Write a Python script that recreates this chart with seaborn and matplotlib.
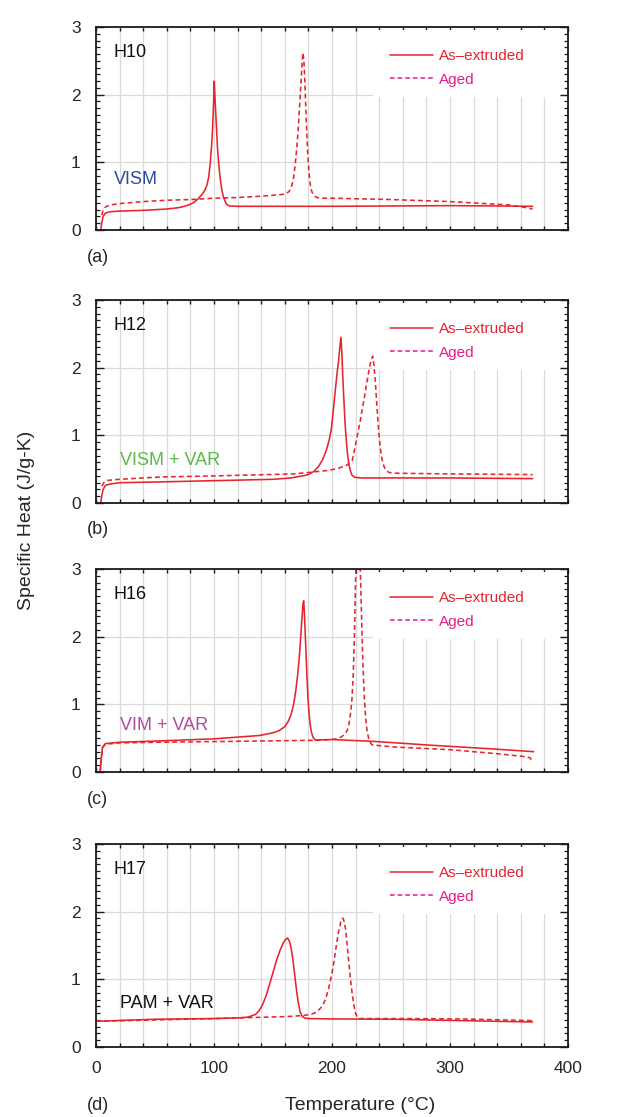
import numpy as np
import pandas as pd
import matplotlib
matplotlib.use("Agg")
import matplotlib.pyplot as plt
import seaborn as sns
from matplotlib.ticker import MultipleLocator, FixedLocator
from matplotlib.lines import Line2D
from matplotlib.patches import Rectangle

# ---------------- data ----------------
panels = ["H10", "H12", "H16", "H17"]
processes = ["VISM", "VISM + VAR", "VIM + VAR", "PAM + VAR"]
panel_tags = ["(a)", "(b)", "(c)", "(d)"]
conditions = ["As–extruded", "Aged"]

# H10
T_h10_ext = [4, 5, 6, 8, 12, 20, 40, 60, 70, 75, 80, 83, 86, 88, 90, 92, 94, 95.5, 96.9, 98, 98.8,
             99.6, 100.2, 101, 102, 103, 104, 105, 106, 107, 108, 109.5, 111, 113, 120, 150, 200,
             250, 300, 340, 370]
Cp_h10_ext = [0, 0.12, 0.2, 0.25, 0.27, 0.28, 0.29, 0.31, 0.33, 0.35, 0.38, 0.41, 0.45, 0.49, 0.53,
              0.58, 0.66, 0.78, 1.0, 1.25, 1.5, 1.85, 2.2, 1.9, 1.55, 1.2, 0.98, 0.8, 0.66, 0.56,
              0.49, 0.42, 0.375, 0.355, 0.35, 0.35, 0.35, 0.355, 0.36, 0.355, 0.35]
T_h10_aged = [5, 6, 8, 12, 20, 40, 60, 80, 100, 120, 140, 155, 160, 163, 164.5, 166, 167.5, 169,
              170.2, 171.4, 172.6, 173.8, 174.8, 175.4, 176.2, 177, 177.8, 178.6, 179.5, 180.5,
              181.5, 182.8, 184.5, 187, 192, 200, 250, 300, 330, 350, 365, 370]
Cp_h10_aged = [0.22, 0.3, 0.34, 0.37, 0.39, 0.42, 0.44, 0.45, 0.47, 0.48, 0.5, 0.52, 0.53, 0.56,
               0.59, 0.66, 0.78, 1.0, 1.22, 1.5, 1.85, 2.2, 2.5, 2.62, 2.5, 2.2, 1.8, 1.45, 1.1,
               0.85, 0.68, 0.57, 0.51, 0.48, 0.47, 0.47, 0.45, 0.42, 0.39, 0.37, 0.33, 0.31]

# H12
T_h12_ext = [4, 5, 6, 8, 12, 20, 50, 100, 150, 165, 175, 180, 185, 189, 192, 195, 197.5, 199.5,
             201.4, 203, 204.5, 205.6, 206.6, 207.6, 208.4, 209.2, 210, 211, 212, 213, 214.2,
             215.5, 217, 219, 225, 300, 370]
Cp_h12_ext = [0, 0.12, 0.2, 0.26, 0.28, 0.3, 0.31, 0.33, 0.35, 0.37, 0.40, 0.42, 0.47, 0.55, 0.64,
              0.77, 0.92, 1.1, 1.42, 1.7, 1.95, 2.1, 2.3, 2.45, 2.2, 1.85, 1.55, 1.2, 0.95, 0.75,
              0.58, 0.48, 0.41, 0.38, 0.37, 0.37, 0.36]
T_h12_aged = [5, 7, 10, 20, 55, 100, 168, 196, 205, 212.7, 217.2, 219, 221, 224, 227, 229.7,
              231.5, 233, 234.5, 235.5, 236.7, 238, 239.5, 241, 242.5, 244, 246, 248.5, 255, 300,
              370]
Cp_h12_aged = [0.25, 0.31, 0.335, 0.35, 0.385, 0.4, 0.43, 0.48, 0.51, 0.56, 0.63, 0.78, 0.95,
               1.22, 1.52, 1.8, 1.98, 2.1, 2.17, 2.05, 1.8, 1.45, 1.07, 0.8, 0.64, 0.54, 0.48,
               0.45, 0.44, 0.43, 0.42]

# H16
T_h16_ext = [3.5, 4.5, 5.5, 8, 20, 55, 100, 139, 150, 155, 160, 163, 165.5, 167.5, 169.3, 171,
             172.3, 173.5, 174.6, 175.5, 176, 176.6, 177.3, 178, 178.8, 179.6, 180.5, 181.5,
             182.7, 184, 186, 190, 200, 238, 280, 337, 371]
Cp_h16_ext = [0, 0.2, 0.37, 0.42, 0.44, 0.46, 0.49, 0.54, 0.58, 0.61, 0.67, 0.75, 0.86, 1.0, 1.2,
              1.45, 1.7, 2.0, 2.29, 2.5, 2.53, 2.35, 2.05, 1.75, 1.4, 1.1, 0.88, 0.7, 0.58, 0.51,
              0.47, 0.475, 0.48, 0.45, 0.40, 0.34, 0.30]
T_h16_aged = [3.5, 4.5, 5.5, 8, 20, 55, 100, 150, 190, 200, 204, 208, 211, 213, 214.5, 216, 217,
              218, 219, 219.8, 220.5, 221.5, 222.5, 223.5, 224.3, 225.2, 226.2, 227.4, 228.5,
              229.8, 231.5, 234, 252, 300, 340, 362, 368, 370]
Cp_h16_aged = [0, 0.2, 0.36, 0.41, 0.43, 0.44, 0.45, 0.46, 0.47, 0.48, 0.49, 0.52, 0.56, 0.62,
               0.72, 0.9, 1.1, 1.45, 2.0, 2.7, 3.2, 3.5, 3.5, 3.2, 2.8, 2.2, 1.6, 1.1, 0.8, 0.6,
               0.46, 0.4, 0.37, 0.33, 0.27, 0.23, 0.21, 0.14]

# H17
T_h17_ext = [0, 50, 100, 120, 128, 132, 135, 138, 141, 144, 147, 150, 153, 156, 158.5, 160.5,
             162.4, 164, 165.5, 167, 168.5, 170, 171.5, 173, 174.5, 176.5, 180, 200, 252, 309, 370]
Cp_h17_ext = [0.38, 0.41, 0.42, 0.43, 0.44, 0.46, 0.48, 0.53, 0.62, 0.75, 0.92, 1.1, 1.28, 1.43,
              1.53, 1.59, 1.61, 1.56, 1.45, 1.27, 1.05, 0.83, 0.65, 0.52, 0.46, 0.43, 0.42, 0.415,
              0.41, 0.39, 0.37]
T_h17_aged = [0, 50, 100, 162, 175, 181.6, 185, 188.7, 191.5, 194.4, 197.2, 200, 202, 204, 206,
              207.5, 208.5, 209.5, 210.5, 211.5, 212.8, 214, 215.5, 217, 218.5, 219.8, 221.2,
              222.6, 230, 260, 309, 370]
Cp_h17_aged = [0.38, 0.40, 0.42, 0.45, 0.465, 0.48, 0.5, 0.545, 0.6, 0.70, 0.87, 1.09, 1.3, 1.54,
               1.74, 1.85, 1.9, 1.9, 1.84, 1.74, 1.52, 1.29, 1.03, 0.8, 0.62, 0.51, 0.45, 0.42,
               0.42, 0.42, 0.415, 0.39]

x_ticks = list(range(0, 401, 20))
y_ticks = [0, 1, 2, 3]

series = {
    ("H10", "As–extruded"): (T_h10_ext, Cp_h10_ext),
    ("H10", "Aged"): (T_h10_aged, Cp_h10_aged),
    ("H12", "As–extruded"): (T_h12_ext, Cp_h12_ext),
    ("H12", "Aged"): (T_h12_aged, Cp_h12_aged),
    ("H16", "As–extruded"): (T_h16_ext, Cp_h16_ext),
    ("H16", "Aged"): (T_h16_aged, Cp_h16_aged),
    ("H17", "As–extruded"): (T_h17_ext, Cp_h17_ext),
    ("H17", "Aged"): (T_h17_aged, Cp_h17_aged),
}
frames = []
for (p, c), (t, cp) in series.items():
    frames.append(pd.DataFrame({"panel": p, "condition": c, "T": t, "Cp": cp}))
df = pd.concat(frames, ignore_index=True)

# ---------------- style ----------------
sns.set_style("white")
plt.rcParams["font.family"] = ["Liberation Sans", "DejaVu Sans"]

RED = "#e8232b"
MAG = "#e6198a"
proc_colors = ["#2b4a9c", "#5cb845", "#b04aa2", "#111111"]
GRID = "#dadada"
SPINE = "#1a1a1a"

W, H = 631, 1117
fig = plt.figure(figsize=(W / 100, H / 100), dpi=100)
left_px, right_px = 96, 568
tops = [27, 300, 569, 844]
h_px = 203
tag_y = [257, 530, 799, 1105]
proc_y = [0.74, 0.63, 0.69, 0.65]
proc_x = [15, 20, 20, 20]

for i, p in enumerate(panels):
    ax = fig.add_axes([left_px / W, 1 - (tops[i] + h_px) / H,
                       (right_px - left_px) / W, h_px / H])
    sub = df[df.panel == p]
    ext = sub[sub.condition == "As–extruded"]
    aged = sub[sub.condition == "Aged"]
    sns.lineplot(data=ext, x="T", y="Cp", ax=ax, color=RED, lw=1.15,
                 estimator=None, sort=False, legend=False, zorder=3)
    sns.lineplot(data=aged, x="T", y="Cp", ax=ax, color=RED, lw=1.15,
                 linestyle=(0, (3, 2)), estimator=None, sort=False, legend=False, zorder=3)

    ax.set_xlim(0, 400)
    ax.set_ylim(0, 3)
    ax.xaxis.set_major_locator(FixedLocator(x_ticks))
    ax.yaxis.set_major_locator(FixedLocator(y_ticks))
    ax.yaxis.set_minor_locator(MultipleLocator(0.1))
    if i == 3:
        ax.set_xticklabels([str(v) if v % 100 == 0 else "" for v in x_ticks])
    else:
        ax.set_xticklabels([])
    ax.set_xlabel("")
    ax.set_ylabel("")
    ax.grid(True, which="major", axis="both", color=GRID, lw=0.9)
    ax.set_axisbelow(True)
    ax.tick_params(axis="x", which="major", direction="in", top=True, bottom=True,
                   length=3, width=1.0, color=SPINE, labelsize=12.5, pad=10)
    ax.tick_params(axis="y", which="major", direction="in", left=True, right=True,
                   length=5.5, width=1.0, color=SPINE, labelsize=12.5, pad=11)
    ax.tick_params(axis="y", which="minor", direction="in", left=True, right=True,
                   length=3, width=0.9, color=SPINE)
    for s in ax.spines.values():
        s.set_color(SPINE)
        s.set_linewidth(1.3)
        s.set_zorder(4)

    # white panel behind the legend (hides the grid there)
    ax.add_patch(Rectangle((0.587, 0.655), 0.396, 0.33, transform=ax.transAxes,
                           facecolor="white", edgecolor="none", zorder=1))

    ax.text(15, 2.63, p, fontsize=13, ha="left", va="center", color="#111111", zorder=6)
    ax.text(proc_x[i], proc_y[i], processes[i], fontsize=13, ha="left", va="center",
            color=proc_colors[i], zorder=6)

    handles = [Line2D([], [], color=RED, lw=1.1),
               Line2D([], [], color=MAG, lw=1.1, linestyle=(0, (3, 2)))]
    leg = ax.legend(handles, conditions, loc="upper left", bbox_to_anchor=(0.591, 0.965),
                    borderaxespad=0, borderpad=1.0, frameon=False, fontsize=11,
                    handlelength=2.8, handletextpad=0.4, labelspacing=0.6,
                    labelcolor=[RED, MAG])
    leg.set_zorder(5)

    fig.text(87 / W, 1 - tag_y[i] / H, panel_tags[i], fontsize=13, ha="left", va="center")

fig.text(360 / W, 1 - 1106 / H, "Temperature (°C)", fontsize=14, ha="center", va="center")
fig.text(27 / W, 1 - 520 / H, "Specific Heat (J/g-K)", fontsize=14, ha="center", va="center",
         rotation=90)

fig.savefig("out.png", dpi=100)
